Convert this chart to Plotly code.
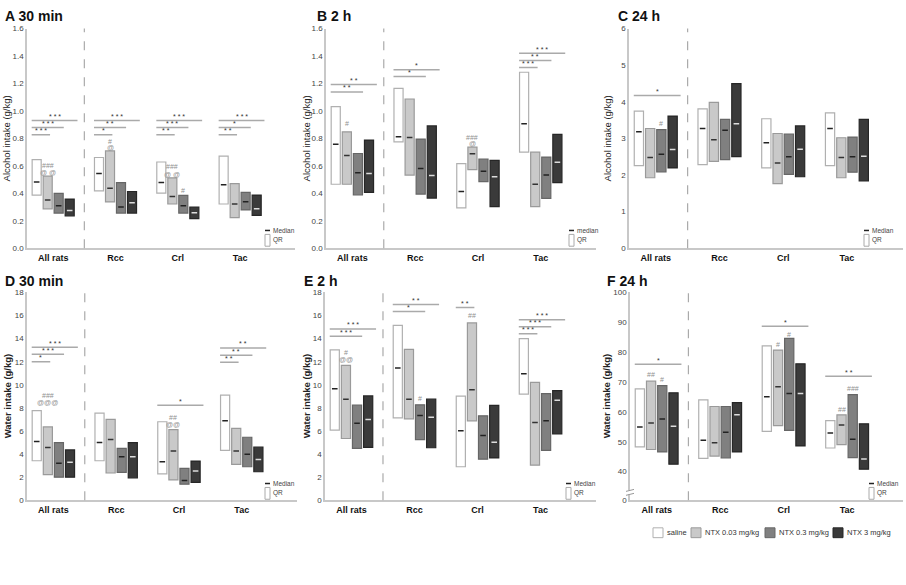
import plotly.graph_objects as go

W, H = 906, 585

cats = ["All rats", "Rcc", "Crl", "Tac"]
groups = ["saline", "NTX 0.03 mg/kg", "NTX 0.3 mg/kg", "NTX 3 mg/kg"]

# rows = groups (saline, 0.03, 0.3, 3), columns = cats
# A: alcohol 30 min
a_q1 = [[0.387, 0.418, 0.401, 0.322], [0.287, 0.337, 0.322, 0.222],
        [0.256, 0.256, 0.256, 0.279], [0.236, 0.256, 0.215, 0.239]]
a_med = [[0.482, 0.545, 0.478, 0.463], [0.351, 0.437, 0.377, 0.322],
         [0.310, 0.300, 0.310, 0.339], [0.275, 0.332, 0.258, 0.287]]
a_q3 = [[0.645, 0.661, 0.628, 0.671], [0.525, 0.709, 0.513, 0.470],
        [0.400, 0.478, 0.385, 0.406], [0.358, 0.413, 0.300, 0.387]]
# B: alcohol 2 h
b_q1 = [[0.466, 0.775, 0.294, 0.700], [0.466, 0.533, 0.573, 0.303],
        [0.389, 0.394, 0.485, 0.363], [0.406, 0.365, 0.303, 0.478]]
b_med = [[0.757, 0.812, 0.413, 0.907], [0.676, 0.807, 0.688, 0.466],
         [0.549, 0.580, 0.561, 0.533], [0.544, 0.530, 0.520, 0.626]]
b_q3 = [[1.032, 1.165, 0.616, 1.282], [0.848, 1.087, 0.736, 0.700],
        [0.690, 0.795, 0.650, 0.664], [0.788, 0.891, 0.640, 0.829]]
# C: alcohol 24 h
c_q1 = [[2.257, 2.283, 2.194, 2.257], [1.925, 2.373, 1.764, 1.925],
        [2.087, 2.418, 2.015, 2.078], [2.194, 2.500, 1.952, 1.836]]
c_med = [[3.18, 3.27, 2.883, 3.27], [2.48, 2.964, 2.328, 2.48],
         [2.57, 3.224, 2.50, 2.50], [2.70, 3.40, 2.704, 2.51]]
c_q3 = [[3.743, 3.806, 3.537, 3.70], [3.27, 3.985, 3.134, 3.018],
        [3.24, 3.52, 3.116, 3.036], [3.61, 4.495, 3.34, 3.52]]
# D: water 30 min
d_q1 = [[3.42, 3.42, 2.28, 4.32], [2.22, 2.36, 1.76, 3.10],
        [2.00, 2.42, 1.39, 2.90], [2.00, 1.94, 1.54, 2.47]]
d_med = [[5.10, 5.00, 3.33, 6.88], [4.56, 5.27, 4.27, 4.27],
         [3.20, 3.77, 1.71, 3.98], [3.30, 3.77, 2.53, 3.53]]
d_q3 = [[7.77, 7.55, 6.80, 9.10], [6.35, 7.00, 6.12, 6.23],
        [4.99, 4.50, 2.76, 5.46], [4.36, 5.00, 3.39, 4.60]]
# E: water 2 h
e_q1 = [[6.08, 7.14, 2.90, 9.20], [5.35, 7.05, 6.88, 3.04],
        [4.49, 5.26, 3.56, 4.32], [4.58, 4.55, 3.67, 5.74]]
e_med = [[9.67, 11.46, 6.03, 10.95], [8.76, 8.76, 9.58, 6.74],
         [6.68, 7.34, 5.60, 6.88], [7.00, 7.19, 5.03, 8.67]]
e_q3 = [[13.02, 15.15, 9.02, 14.00], [11.69, 13.08, 15.36, 10.21],
        [8.25, 8.27, 7.31, 9.24], [9.04, 8.76, 8.22, 9.50]]
# F: water 24 h
f_q1 = [[48.3, 44.4, 53.5, 47.9], [47.4, 45.2, 55.4, 49.0],
        [46.6, 44.6, 53.8, 44.7], [42.5, 46.6, 48.6, 40.8]]
f_med = [[54.9, 50.5, 65.1, 52.9], [56.3, 49.7, 68.4, 55.6],
         [57.6, 53.2, 66.2, 50.8], [55.2, 59.0, 66.2, 44.2]]
f_q3 = [[67.7, 64.0, 82.1, 57.1], [70.3, 61.8, 80.7, 59.0],
        [68.8, 61.8, 84.6, 65.8], [66.4, 63.1, 76.1, 56.0]]

# significance bars vs saline: (category, group compared, height, stars)
a_sig = [(0, 1, 0.827, "* * *"), (0, 2, 0.879, "* * *"), (0, 3, 0.931, "* * *"),
         (1, 1, 0.827, "*"), (1, 2, 0.879, "* *"), (1, 3, 0.931, "* * *"),
         (2, 1, 0.827, "* *"), (2, 2, 0.879, "* * *"), (2, 3, 0.931, "* * *"),
         (3, 1, 0.827, "* *"), (3, 2, 0.879, "*"), (3, 3, 0.931, "* * *")]
b_sig = [(0, 2, 1.139, "* *"), (0, 3, 1.192, "* *"), (1, 2, 1.251, "*"), (1, 3, 1.30, "*"),
         (3, 1, 1.316, "* * *"), (3, 2, 1.368, "* *"), (3, 3, 1.421, "* * *")]
c_sig = [(0, 3, 4.17, "*")]
d_sig = [(0, 1, 12.0, "*"), (0, 2, 12.65, "* * *"), (0, 3, 13.25, "* * *"), (2, 3, 8.22, "*"),
         (3, 1, 11.95, "* *"), (3, 2, 12.57, "* *"), (3, 3, 13.2, "* *")]
e_sig = [(0, 2, 14.2, "* * *"), (0, 3, 14.84, "* * *"), (1, 2, 16.35, "*"), (1, 3, 16.97, "* *"),
         (2, 1, 16.7, "* *"), (3, 1, 14.42, "* * *"), (3, 2, 15.04, "* * *"), (3, 3, 15.64, "* * *")]
f_sig = [(0, 3, 76.0, "*"), (2, 3, 88.7, "*"), (3, 3, 71.9, "* *")]

# other marks above boxes: (category, group, height, text)
a_marks = [(0, 1, 0.604, "###"), (0, 1, 0.549, "@ @"), (1, 1, 0.781, "#"), (1, 1, 0.735, "@"),
           (2, 1, 0.595, "###"), (2, 1, 0.537, "@ @"), (2, 2, 0.418, "#")]
b_marks = [(0, 1, 0.905, "#"), (2, 1, 0.805, "###"), (2, 1, 0.764, "@")]
c_marks = [(0, 2, 3.42, "#")]
d_marks = [(0, 1, 9.1, "###"), (0, 1, 8.5, "@@@"), (2, 1, 7.2, "##"), (2, 1, 6.6, "@@")]
e_marks = [(0, 1, 12.8, "#"), (0, 1, 12.17, "@@"), (1, 2, 8.8, "#"), (2, 1, 16.04, "##")]
f_marks = [(0, 1, 72.4, "##"), (0, 2, 71.0, "#"), (2, 1, 82.7, "#"), (2, 2, 86.0, "#"),
           (3, 1, 60.9, "##"), (3, 2, 67.7, "###")]

fills = ["#ffffff", "#c9c9c9", "#808080", "#3a3a3a"]
edges = ["#b0b0b0", "#9a9a9a", "#666666", "#262626"]
medc = ["#222222", "#333333", "#222222", "#dddddd"]
offs = [-0.265, -0.088, 0.088, 0.265]
ends = [0, -0.05, 0.17, 0.39]
FONT = "Liberation Sans, Arial, sans-serif"


def px(x):
    return x / W


def py(y):
    return 1 - y / H


panels = [
    dict(q1=a_q1, med=a_med, q3=a_q3, sig=a_sig, marks=a_marks, title="A 30 min",
         ytitle="Alcohol intake (g/kg)", bold=False, xd=(27, 295), yd=(25, 248),
         rng=[0, 1.6], tv=[i / 5 for i in range(9)], tt=["%.1f" % (i / 5) for i in range(9)],
         tpos=(3, 12), ypos=6, mini=(267, 230, "Median")),
    dict(q1=b_q1, med=b_med, q3=b_q3, sig=b_sig, marks=b_marks, title="B 2 h",
         ytitle="Alcohol intake (g/kg)", bold=False, xd=(326, 596), yd=(25, 248),
         rng=[0, 1.6], tv=[i / 5 for i in range(9)], tt=["%.1f" % (i / 5) for i in range(9)],
         tpos=(315, 12), ypos=306, mini=(571, 230, "median")),
    dict(q1=c_q1, med=c_med, q3=c_q3, sig=c_sig, marks=c_marks, title="C 24 h",
         ytitle="Alcohol intake (g/kg)", bold=False, xd=(629, 903), yd=(25, 248),
         rng=[0, 6], tv=list(range(7)), tt=[str(i) for i in range(7)],
         tpos=(616, 12), ypos=607, mini=(866, 230, "Median")),
    dict(q1=d_q1, med=d_med, q3=d_q3, sig=d_sig, marks=d_marks, title="D 30 min",
         ytitle="Water intake (g/kg)", bold=True, xd=(27, 297), yd=(293, 504),
         rng=[0, 18], tv=list(range(0, 19, 2)), tt=[str(i) for i in range(0, 19, 2)],
         tpos=(3, 281), ypos=7, mini=(267, 487, "Median")),
    dict(q1=e_q1, med=e_med, q3=e_q3, sig=e_sig, marks=e_marks, title="E 2 h",
         ytitle="Water intake (g/kg)", bold=True, xd=(325, 596), yd=(293, 504),
         rng=[0, 18], tv=list(range(0, 19, 2)), tt=[str(i) for i in range(0, 19, 2)],
         tpos=(302, 281), ypos=306, mini=(568, 487, "Median")),
    dict(q1=f_q1, med=f_med, q3=f_q3, sig=f_sig, marks=f_marks, title="F 24 h",
         ytitle="Water intake (g/kg)", bold=True, xd=(630, 903), yd=(293, 504),
         rng=[30.4, 100], tv=[30.4] + list(range(40, 101, 10)),
         tt=["0"] + [str(v) for v in range(40, 101, 10)],
         tpos=(605, 281), ypos=606, mini=(871, 487, "Median")),
]

fig = go.Figure()
shapes = []
annos = []

for k, p in enumerate(panels):
    n = "" if k == 0 else str(k + 1)
    xa, ya = "x" + n, "y" + n
    for g in range(4):
        xs = [i + 1 + offs[g] for i in range(4)]
        fig.add_trace(go.Bar(
            x=xs, y=[t - b for t, b in zip(p["q3"][g], p["q1"][g])], base=p["q1"][g],
            width=0.145, marker=dict(color=fills[g], line=dict(color=edges[g], width=1.2)),
            xaxis=xa, yaxis=ya, showlegend=False, hoverinfo="skip"))
        fig.add_trace(go.Scatter(
            x=xs, y=p["med"][g], mode="markers",
            marker=dict(symbol="line-ew", size=4, line=dict(color=medc[g], width=1.5)),
            xaxis=xa, yaxis=ya, showlegend=False, hoverinfo="skip"))

    fig.layout["xaxis" + n] = dict(
        domain=[px(p["xd"][0]), px(p["xd"][1])], anchor=ya, range=[0.58, 4.88],
        tickvals=[1, 2, 3, 4], ticktext=cats, showgrid=False, zeroline=False,
        showline=True, linecolor="#c8c8c8", linewidth=1.5, ticks="",
        tickfont=dict(family=FONT, size=9, color="#111", weight="bold"))
    fig.layout["yaxis" + n] = dict(
        domain=[py(p["yd"][1]), py(p["yd"][0])], anchor=xa, range=p["rng"],
        tickvals=p["tv"], ticktext=p["tt"], showgrid=False, zeroline=False,
        showline=True, linecolor="#c8c8c8", linewidth=1.5, ticks="",
        tickfont=dict(family=FONT, size=8, color="#444"))

    # dashed separator between All rats and subgroups
    shapes.append(dict(type="line", xref=xa, yref=ya + " domain", x0=1.5, x1=1.5, y0=0, y1=1,
                       line=dict(color="#aaaaaa", width=1.2, dash="dash")))

    for c, j, lev, stars in p["sig"]:
        x0, x1 = c + 1 - 0.345, c + 1 + ends[j]
        shapes.append(dict(type="line", xref=xa, yref=ya, x0=x0, x1=x1, y0=lev, y1=lev,
                           line=dict(color="#aaaaaa", width=1.5)))
        annos.append(dict(xref=xa, yref=ya, x=(x0 + x1) / 2, y=lev, text=stars, showarrow=False,
                          yshift=4, font=dict(family=FONT, size=7, color="#333")))
    for c, j, lev, txt in p["marks"]:
        annos.append(dict(xref=xa, yref=ya, x=c + 1 + offs[j], y=lev, text=txt, showarrow=False,
                          font=dict(family=FONT, size=7, color="#909090")))

    # panel title and y title
    annos.append(dict(xref="paper", yref="paper", x=px(p["tpos"][0]), y=py(p["tpos"][1]),
                      xanchor="left", yanchor="middle", showarrow=False,
                      text="<b>" + p["title"] + "</b>",
                      font=dict(family=FONT, size=14, color="#111")))
    yt = "<b>" + p["ytitle"] + "</b>" if p["bold"] else p["ytitle"]
    annos.append(dict(xref="paper", yref="paper", x=px(p["ypos"]),
                      y=py((p["yd"][0] + p["yd"][1]) / 2), textangle=-90, showarrow=False,
                      xanchor="center", yanchor="middle",
                      text=yt, font=dict(family=FONT, size=9.5, color="#222")))

    # small median / IQR key
    xd, yd, lab = p["mini"]
    shapes.append(dict(type="line", xref="paper", yref="paper", x0=px(xd - 2), x1=px(xd + 3),
                       y0=py(yd), y1=py(yd), line=dict(color="#222", width=1.5)))
    shapes.append(dict(type="rect", xref="paper", yref="paper", x0=px(xd - 2), x1=px(xd + 3),
                       y0=py(yd + 16), y1=py(yd + 4), line=dict(color="#aaa", width=1),
                       fillcolor="white"))
    annos.append(dict(xref="paper", yref="paper", x=px(xd + 4), y=py(yd), xanchor="left",
                      yanchor="middle", showarrow=False, text=lab,
                      font=dict(family=FONT, size=6.5, color="#444")))
    annos.append(dict(xref="paper", yref="paper", x=px(xd + 4), y=py(yd + 10), xanchor="left",
                      yanchor="middle", showarrow=False, text="QR",
                      font=dict(family=FONT, size=6.5, color="#444")))

# axis break on panel F
shapes.append(dict(type="rect", xref="paper", yref="paper", x0=px(626), x1=px(634),
                   y0=py(498), y1=py(494), line=dict(width=0), fillcolor="white"))
for yb in (494, 498):
    shapes.append(dict(type="line", xref="paper", yref="paper", x0=px(626), x1=px(634),
                       y0=py(yb + 1), y1=py(yb - 1), line=dict(color="#999", width=1)))

# bottom legend
leg_x = [653, 691, 765, 833]
for g in range(4):
    shapes.append(dict(type="rect", xref="paper", yref="paper", x0=px(leg_x[g]),
                       x1=px(leg_x[g] + 10), y0=py(542), y1=py(532), fillcolor=fills[g],
                       line=dict(color=edges[g], width=1)))
    annos.append(dict(xref="paper", yref="paper", x=px(leg_x[g] + 12), y=py(537),
                      xanchor="left", yanchor="middle", showarrow=False, text=groups[g],
                      font=dict(family=FONT, size=7.5, color="#333")))

fig.update_layout(
    width=W, height=H, margin=dict(l=0, r=0, t=0, b=0),
    paper_bgcolor="white", plot_bgcolor="white", barmode="overlay",
    shapes=shapes, annotations=annos, showlegend=False,
)

# drop the page's default body margin so the figure sits at the window corner
fig.write_html("out.html", config={"displayModeBar": False},
               post_script="document.body.style.margin = '0px';")
